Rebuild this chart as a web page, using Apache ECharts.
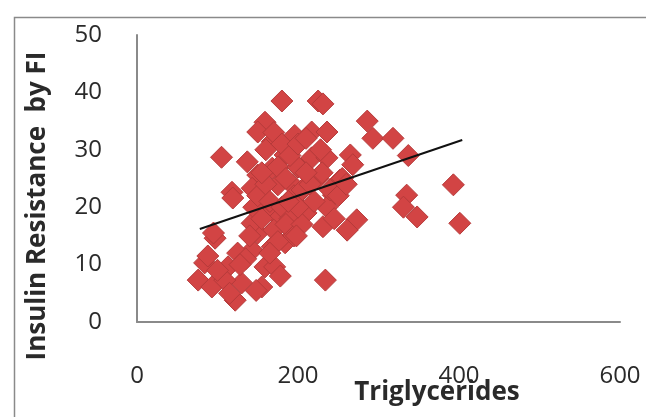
<!DOCTYPE html>
<html>
<head>
<meta charset="utf-8">
<script src="https://cdn.jsdelivr.net/npm/echarts@6/dist/echarts.min.js"></script>
<style>
  html, body { margin: 0; padding: 0; background: #fff; }
  #chart { width: 646px; height: 417px; }
</style>
</head>
<body>
<div id="chart"></div>
<script>
// triglycerides (x) vs insulin resistance by FI (y)
const triglycerides = [
  180, 225, 231, 286, 293, 318, 337, 105, 137, 159, 150, 168, 196, 217, 184, 205,
  150, 168, 118, 143, 175, 217, 225, 193, 236, 236, 265, 268, 393, 244, 335, 236,
  231, 273, 261, 331, 348, 401, 234, 97, 84, 76, 93, 113, 122, 130, 109, 143,
  159, 155, 171, 168, 150, 184, 193, 175, 143, 159, 205, 125, 95, 119, 252, 145,
  150, 155, 160, 165, 170, 175, 180, 185, 190, 195, 200, 205, 210, 215, 220, 230,
  240, 250, 255, 160, 170, 180, 190, 200, 210, 175, 185, 195, 205, 165, 140, 155,
  200, 210, 135, 128, 100, 88, 115, 148, 178, 188, 198, 228, 245, 260
];
const insulinFI = [
  38.5, 38.5, 38.0, 35.0, 32.0, 32.0, 29.0, 28.7, 27.9, 34.8, 33.1, 31.4, 32.5, 33.1, 29.1, 26.8,
  25.6, 26.8, 22.6, 23.3, 23.9, 28.6, 25.0, 23.9, 33.1, 28.6, 29.1, 27.4, 23.9, 22.1, 22.1, 20.0,
  16.6, 17.8, 16.0, 20.0, 18.3, 17.2, 7.3, 14.6, 10.3, 7.3, 6.1, 9.6, 3.8, 6.8, 7.3, 12.5,
  9.6, 6.1, 9.6, 13.1, 15.5, 13.8, 16.6, 18.3, 17.2, 19.5, 19.5, 12.0, 15.5, 21.6, 24.7, 20.0,
  22.0, 18.0, 24.0, 21.0, 16.0, 27.0, 20.0, 25.0, 18.0, 22.0, 27.0, 23.0, 19.0, 24.0, 21.0, 26.0,
  23.0, 22.0, 25.0, 30.0, 33.0, 31.0, 29.0, 31.0, 32.0, 14.0, 17.0, 15.0, 17.0, 12.0, 15.0, 26.0,
  20.0, 26.0, 11.0, 10.0, 9.0, 11.5, 5.0, 5.5, 8.0, 21.0, 15.0, 30.0, 18.0, 24.0
];
// fitted trend line end points
const trendX = [78, 404];
const trendY = [16.2, 31.7];
const xTicks = [0, 200, 400, 600];
const yTicks = [0, 10, 20, 30, 40, 50];

const points = triglycerides.map((x, i) => [x, insulinFI[i]]);
const trend = trendX.map((x, i) => [x, trendY[i]]);

const chart = echarts.init(document.getElementById('chart'), null, { renderer: 'canvas' });

const labelFont = '"Open Sans", Lato, sans-serif';

chart.setOption({
  animation: false,
  grid: { left: 137, right: 26, top: 35, bottom: 95 },
  xAxis: {
    type: 'value',
    min: xTicks[0],
    max: xTicks[xTicks.length - 1],
    interval: 200,
    axisLine: { show: true, lineStyle: { color: '#8a8a8a', width: 2 } },
    axisTick: { show: false },
    splitLine: { show: false },
    axisLabel: { color: '#2a2a2a', fontSize: 24, fontFamily: labelFont, margin: 42 }
  },
  yAxis: {
    type: 'value',
    min: yTicks[0],
    max: yTicks[yTicks.length - 1],
    interval: 10,
    axisLine: { show: true, lineStyle: { color: '#8a8a8a', width: 2 } },
    axisTick: { show: false },
    splitLine: { show: false },
    axisLabel: { color: '#2a2a2a', fontSize: 24, fontFamily: labelFont, margin: 35 }
  },
  graphic: [
    {
      type: 'rect',
      left: 12, top: 15,
      shape: { width: 700, height: 500 },
      style: { fill: 'none', stroke: '#8a8a8a', lineWidth: 1.5 },
      silent: true, z: -1
    },
    {
      type: 'text',
      x: 38, y: 206,
      rotation: Math.PI / 2,
      style: {
        text: 'Insulin Resistance  by FI',
        fill: '#2a2a2a',
        font: 'bold 26px ' + labelFont,
        align: 'center',
        verticalAlign: 'middle'
      }
    },
    {
      type: 'text',
      x: 437, y: 393,
      style: {
        text: 'Triglycerides',
        fill: '#2a2a2a',
        font: 'bold 26px ' + labelFont,
        align: 'center',
        verticalAlign: 'middle'
      }
    }
  ],
  series: [
    {
      type: 'scatter',
      data: points,
      symbol: 'diamond',
      symbolSize: [22, 22],
      itemStyle: { color: '#d24444', borderColor: '#b53a3a', borderWidth: 1, opacity: 1 }
    },
    {
      type: 'line',
      data: trend,
      symbol: 'none',
      lineStyle: { color: '#111', width: 2 },
      z: 3
    }
  ]
});
</script>
</body>
</html>
